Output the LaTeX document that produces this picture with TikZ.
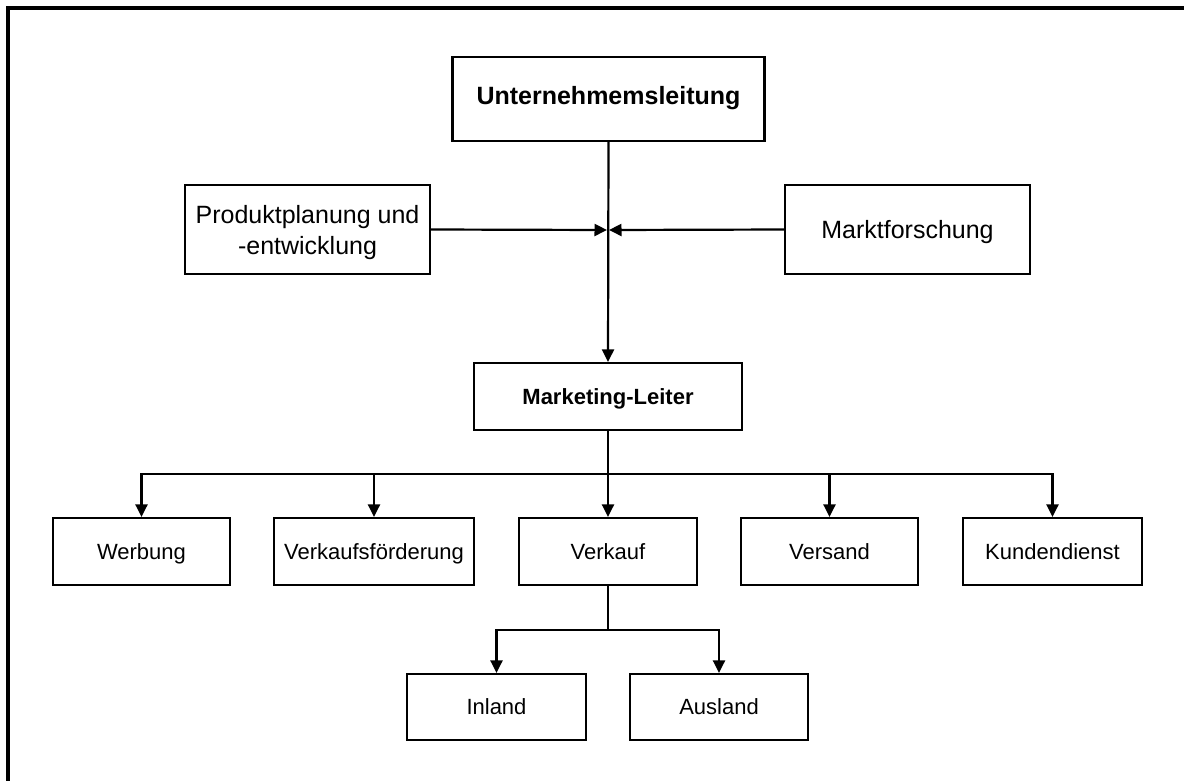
\documentclass[tikz,border=0pt]{standalone}
\usepackage{fontspec}
\setmainfont{Liberation Sans}
\usetikzlibrary{arrows.meta}

\tikzset{
  box/.style={draw, line width=2.2pt, inner sep=0pt, align=center, text=black},
  plainbox/.style={draw, line width=2.2pt, inner sep=0pt},
  big/.style={font=\fontsize{25}{31}\selectfont, text height=17.9pt, text depth=0pt},
  small/.style={font=\fontsize{22}{26}\selectfont, text height=15.75pt, text depth=0pt},
  bigtwo/.style={font=\fontsize{25}{31}\selectfont},
  link/.style={line width=2.2pt},
  arr/.style={line width=2.2pt, -{Triangle[length=12.5pt,width=12pt]}},
}

\begin{document}
\begin{tikzpicture}[x=1pt,y=-1pt]
  \useasboundingbox (0,0) rectangle (1184,780);
  \clip (0,0) rectangle (1184,780);
  \fill[white] (0,0) rectangle (1184,780);

  % outer frame (continues past the right and bottom edges)
  \draw[line width=3.6pt] (7.7,800) -- (7.7,7.7) -- (1200,7.7);

  % top level
  \node[box, big, text depth=6pt, minimum width=312pt, minimum height=84pt] (ul) at (608.5,99) {\bfseries Unternehmemsleitung};
  \node[plainbox, minimum width=245pt, minimum height=89pt,
        label={[bigtwo, align=center, yshift=-3pt, name=ppt]center:Produktplanung und\\-entwicklung}] (pp) at (307.5,229.5) {};
  \node[box, big, minimum width=245pt, minimum height=89pt] (mf) at (907.5,229.5) {Marktforschung};

  % marketing lead
  \node[box, small, minimum width=268pt, minimum height=67pt] (ml) at (608,396.5) {\bfseries Marketing-Leiter};

  % departments
  \node[box, small, minimum width=177pt, minimum height=67pt] (wb) at (141.5,551.5) {Werbung};
  \node[box, small, minimum width=200pt, minimum height=67pt] (vf) at (374,551.5) {Verkaufsförderung};
  \node[box, small, minimum width=178pt, minimum height=67pt] (vk) at (608,551.5) {Verkauf};
  \node[box, small, minimum width=177pt, minimum height=67pt] (vs) at (829.5,551.5) {Versand};
  \node[box, small, minimum width=179pt, minimum height=67pt] (kd) at (1052.5,551.5) {Kundendienst};

  % sales regions
  \node[box, small, minimum width=179pt, minimum height=66pt] (in) at (496.5,707) {Inland};
  \node[box, small, minimum width=178pt, minimum height=66pt] (au) at (719,707) {Ausland};

  % junction points
  \coordinate (hubL) at (607,230);
  \coordinate (hubR) at (609,230);
  \coordinate (bus) at (608,474);
  \coordinate (bus2) at (608,630);

  % connectors
  \draw[arr] (ul.south) -- (ml.north);
  \draw[arr] (pp.east) -- (hubL);
  \draw[arr] (mf.west) -- (hubR);

  \draw[link] (ml.south) -- (bus);
  \draw[arr] (bus) -| (wb.north);
  \draw[arr] (bus) -| (vf.north);
  \draw[arr] (bus) -- (vk.north);
  \draw[arr] (bus) -| (vs.north);
  \draw[arr] (bus) -| (kd.north);

  \draw[link] (vk.south) -- (bus2);
  \draw[arr] (bus2) -| (in.north);
  \draw[arr] (bus2) -| (au.north);
\end{tikzpicture}
\end{document}
